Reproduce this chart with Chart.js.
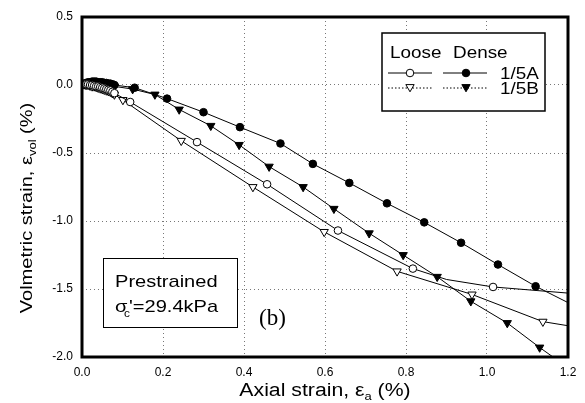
<!DOCTYPE html>
<html>
<head>
  <title>Volumetric strain vs axial strain</title>
  <style>
    body { margin: 0; background: white; }
    #wrap { width: 585px; height: 403px; }
  </style>
</head>
<body>
<div id="wrap"><canvas id="myChart"></canvas></div>
<script src="https://cdn.jsdelivr.net/npm/chart.js"></script>
<script>
  // tick labels
  const xTickLabels = ['0.0', '0.2', '0.4', '0.6', '0.8', '1.0', '1.2'];
  const yTickLabels = ['-2.0', '-1.5', '-1.0', '-0.5', '0.0', '0.5'];

  // Dense 1/5A (filled circles)
  const denseAx = [0, 0.005, 0.01, 0.015, 0.02, 0.025, 0.03, 0.035, 0.04, 0.045, 0.05, 0.055, 0.06, 0.065, 0.07, 0.075, 0.08,
                   0.13, 0.21, 0.30, 0.39, 0.49, 0.57, 0.66, 0.753, 0.845, 0.936, 1.027, 1.12, 1.2];
  const denseAy = [0, 0.01, 0.015, 0.02, 0.02, 0.025, 0.025, 0.025, 0.02, 0.02, 0.02, 0.015, 0.015, 0.01, 0.01, 0.005, 0.0,
                   -0.02, -0.10, -0.20, -0.31, -0.43, -0.58, -0.72, -0.87, -1.01, -1.16, -1.32, -1.48, -1.60];

  // Dense 1/5B (filled triangles down)
  const denseBx = [0, 0.005, 0.01, 0.015, 0.02, 0.025, 0.03, 0.035, 0.04, 0.045, 0.05, 0.055, 0.06, 0.065, 0.07, 0.075, 0.08,
                   0.125, 0.18, 0.24, 0.318, 0.388, 0.462, 0.546, 0.622, 0.709, 0.793, 0.877, 0.96, 1.05, 1.13, 1.163];
  const denseBy = [0, 0.005, 0.01, 0.015, 0.015, 0.015, 0.015, 0.015, 0.01, 0.01, 0.01, 0.005, 0.005, 0, 0, -0.005, -0.01,
                   -0.03, -0.07, -0.18, -0.30, -0.44, -0.60, -0.75, -0.91, -1.09, -1.25, -1.41, -1.59, -1.75, -1.93, -2.0];

  // Loose 1/5A (open circles)
  const looseAx = [0, 0.005, 0.01, 0.015, 0.02, 0.025, 0.03, 0.035, 0.04, 0.045, 0.05, 0.055, 0.06, 0.065, 0.07, 0.075, 0.08,
                   0.119, 0.284, 0.457, 0.632, 0.817, 0.90, 1.015, 1.2];
  const looseAy = [0, 0.005, 0.005, 0.005, 0, 0, -0.005, -0.01, -0.01, -0.015, -0.02, -0.025, -0.03, -0.035, -0.04, -0.05, -0.06,
                   -0.125, -0.42, -0.73, -1.07, -1.35, -1.43, -1.485, -1.53];

  // Loose 1/5B (open triangles down)
  const looseBx = [0, 0.005, 0.01, 0.015, 0.02, 0.025, 0.03, 0.035, 0.04, 0.045, 0.05, 0.055, 0.06, 0.065, 0.07, 0.075, 0.08,
                   0.101, 0.245, 0.422, 0.598, 0.778, 0.963, 1.138, 1.2];
  const looseBy = [0, 0.005, 0, 0, -0.005, -0.01, -0.01, -0.015, -0.02, -0.025, -0.03, -0.035, -0.04, -0.045, -0.05, -0.06, -0.07,
                   -0.11, -0.41, -0.75, -1.08, -1.37, -1.54, -1.74, -1.77];

  // points on each curve that carry no symbol (index)
  const denseAbare = [29];
  const denseBbare = [31];
  const looseAbare = [22, 24];
  const looseBbare = [24];

  const SANS = '"Liberation Sans", Arial, sans-serif';
  const STRETCH = 1.18;

  function pts(xs, ys) {
    return xs.map((x, i) => ({ x: x, y: ys[i] }));
  }

  function series(xs, ys, bare, style, fill, rot, r) {
    return {
      data: pts(xs, ys),
      showLine: true,
      borderColor: 'black',
      borderWidth: 1,
      pointStyle: style,
      pointRotation: rot,
      pointRadius: ctx => bare.includes(ctx.dataIndex) ? 0 : r,
      pointHoverRadius: 0,
      pointBackgroundColor: fill,
      pointBorderColor: 'black',
      pointBorderWidth: 1
    };
  }

  function marker(ctx, kind, filled, x, y) {
    ctx.beginPath();
    if (kind === 'circle') {
      ctx.arc(x, y, 3.8, 0, Math.PI * 2);
    } else {
      const r = 4.8;
      ctx.moveTo(x - r * 0.866, y - r * 0.5);
      ctx.lineTo(x + r * 0.866, y - r * 0.5);
      ctx.lineTo(x, y + r);
      ctx.closePath();
    }
    ctx.fillStyle = filled ? 'black' : 'white';
    ctx.fill();
    ctx.lineWidth = 1;
    ctx.strokeStyle = 'black';
    ctx.stroke();
  }

  // text stretched sideways like the scanned original
  function textW(ctx, s, size) {
    ctx.font = size + 'px ' + SANS;
    return ctx.measureText(s).width * STRETCH;
  }
  function text(ctx, s, x, y, size) {
    ctx.save();
    ctx.translate(x, y);
    ctx.scale(STRETCH, 1);
    ctx.font = size + 'px ' + SANS;
    ctx.fillText(s, 0, 0);
    ctx.restore();
    return textW(ctx, s, size);
  }

  const decor = {
    id: 'decor',
    afterDraw(chart) {
      const ctx = chart.ctx;
      const a = chart.chartArea;
      ctx.save();
      ctx.textBaseline = 'alphabetic';
      ctx.textAlign = 'left';

      // legend box
      ctx.fillStyle = 'white';
      ctx.fillRect(382, 33, 163, 78);
      ctx.strokeStyle = 'black';
      ctx.lineWidth = 1.5;
      ctx.strokeRect(382, 33, 163, 78);
      ctx.fillStyle = 'black';
      text(ctx, 'Loose', 390, 58, 16);
      text(ctx, 'Dense', 453, 58, 16);
      text(ctx, '1/5A', 500, 79, 16);
      text(ctx, '1/5B', 500, 94, 16);
      ctx.lineWidth = 1;
      ctx.beginPath();
      ctx.moveTo(388, 73); ctx.lineTo(432, 73);
      ctx.moveTo(443, 73); ctx.lineTo(487, 73);
      ctx.stroke();
      ctx.setLineDash([1.5, 2]);
      ctx.beginPath();
      ctx.moveTo(388, 88); ctx.lineTo(432, 88);
      ctx.moveTo(443, 88); ctx.lineTo(487, 88);
      ctx.stroke();
      ctx.setLineDash([]);
      marker(ctx, 'circle', false, 410, 73);
      marker(ctx, 'circle', true, 466, 73);
      marker(ctx, 'tri', false, 410, 87);
      marker(ctx, 'tri', true, 466, 87);

      // annotation box
      ctx.fillStyle = 'white';
      ctx.fillRect(103, 258, 134, 69);
      ctx.strokeStyle = 'black';
      ctx.lineWidth = 1;
      ctx.strokeRect(103.5, 258.5, 134, 69);
      ctx.fillStyle = 'black';
      text(ctx, 'Prestrained', 115, 287, 17);
      text(ctx, '\u03c3', 115, 312, 17);
      text(ctx, 'c', 124, 317, 10);
      text(ctx, '\'=29.4kPa', 129, 312, 17);

      // (b)
      ctx.font = '23px "Liberation Serif", "Times New Roman", serif';
      ctx.fillText('(b)', 259, 325);

      // frame
      ctx.lineWidth = 3;
      ctx.strokeRect(a.left, a.top, a.right - a.left, a.bottom - a.top);

      // x title
      const xa = 'Axial strain, \u03b5', xb = ' (%)';
      const wx = textW(ctx, xa, 18) + textW(ctx, 'a', 11) + textW(ctx, xb, 18);
      let sx = 325 - wx / 2;
      sx += text(ctx, xa, sx, 396, 18);
      sx += text(ctx, 'a', sx, 400, 11);
      text(ctx, xb, sx, 396, 18);

      // y title
      ctx.translate(32, 208);
      ctx.rotate(-Math.PI / 2);
      const ya = 'Volmetric strain, \u03b5', yb = ' (%)';
      const wy = textW(ctx, ya, 17) + textW(ctx, 'vol', 11) + textW(ctx, yb, 17);
      let sy = -wy / 2;
      sy += text(ctx, ya, sy, 0, 17);
      sy += text(ctx, 'vol', sy, 4, 11);
      text(ctx, yb, sy, 0, 17);

      ctx.restore();
    }
  };

  const tickFont = { family: SANS, size: 12 };

  new Chart(document.getElementById('myChart'), {
    type: 'scatter',
    data: {
      datasets: [
        series(looseAx, looseAy, looseAbare, 'circle', 'white', 0, 3.8),
        series(looseBx, looseBy, looseBbare, 'triangle', 'white', 180, 4.8),
        series(denseAx, denseAy, denseAbare, 'circle', 'black', 0, 3.8),
        series(denseBx, denseBy, denseBbare, 'triangle', 'black', 180, 4.8)
      ]
    },
    options: {
      responsive: true,
      maintainAspectRatio: false,
      animation: false,
      layout: { padding: { top: 17, right: 17, left: 0, bottom: 0 } },
      plugins: { legend: { display: false }, tooltip: { enabled: false } },
      scales: {
        x: {
          min: 0, max: 1.2,
          ticks: { stepSize: 0.2, color: 'black', font: tickFont, padding: 8,
                   callback: (v, i) => xTickLabels[i] },
          grid: { color: '#777', lineWidth: 1, drawTicks: false },
          border: { display: false, dash: [1, 3] },
          afterFit: s => { s.height = 46; }
        },
        y: {
          min: -2, max: 0.5,
          ticks: { stepSize: 0.5, color: 'black', font: tickFont, padding: 9,
                   callback: (v, i) => yTickLabels[i] },
          grid: { color: '#777', lineWidth: 1, drawTicks: false },
          border: { display: false, dash: [1, 3] },
          afterFit: s => { s.width = 82; }
        }
      }
    },
    plugins: [decor]
  });
</script>
</body>
</html>
